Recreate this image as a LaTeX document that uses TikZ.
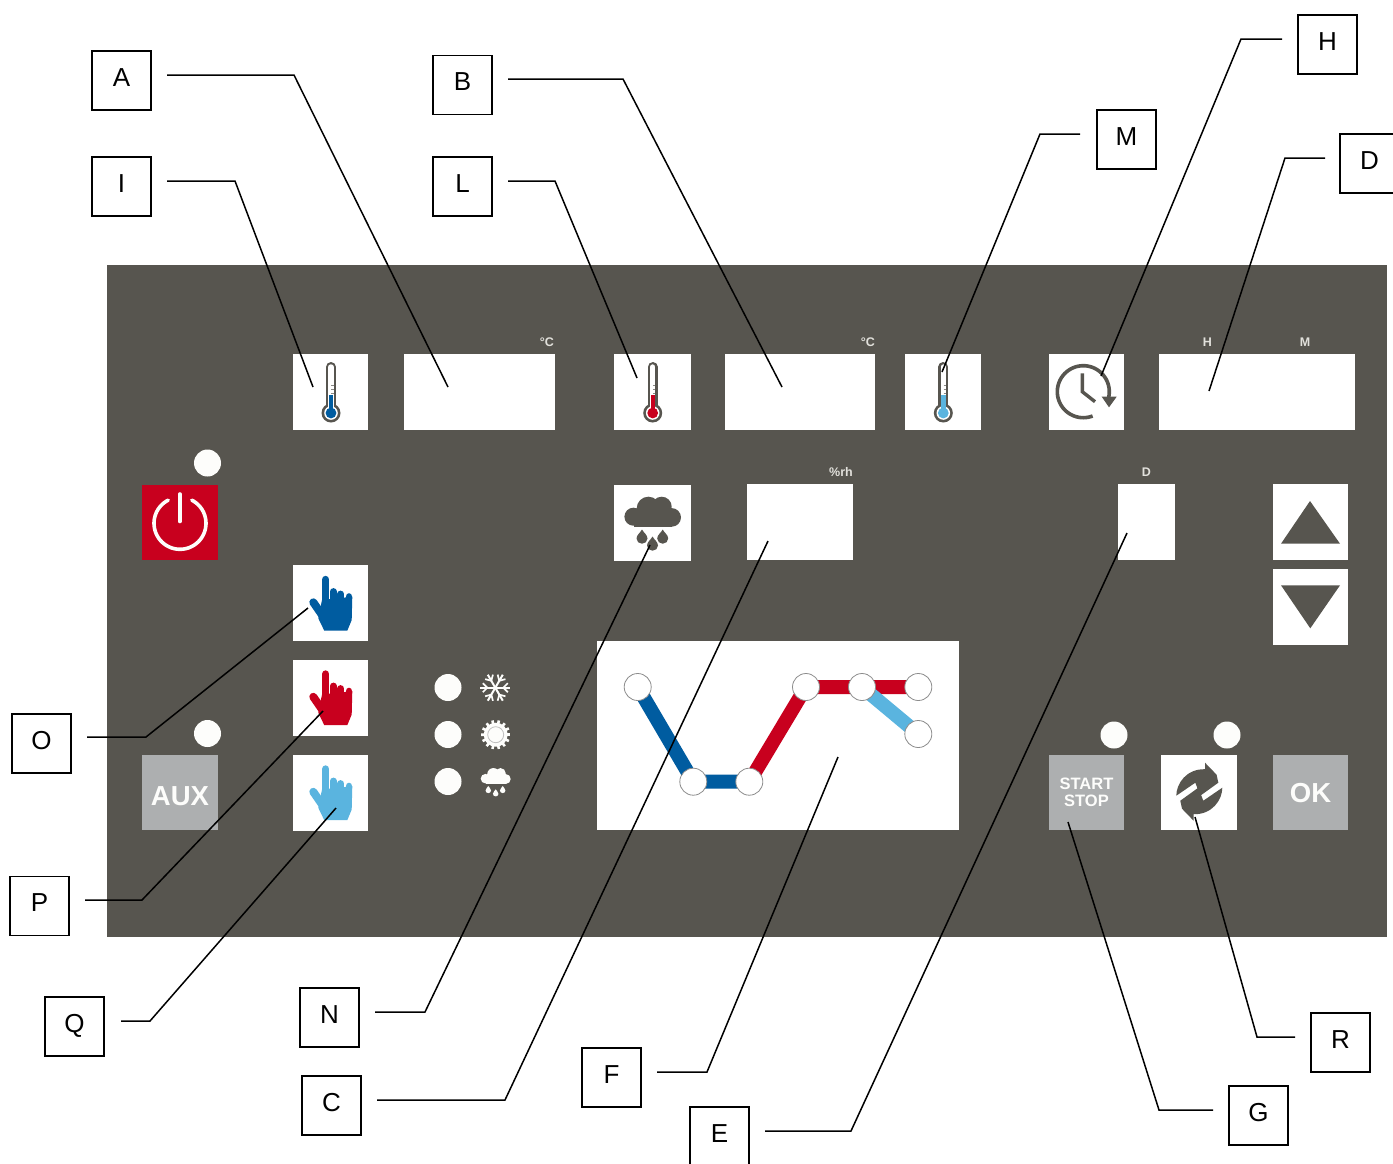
\documentclass[tikz,border=0pt]{standalone}
\usepackage{fontspec}
\setmainfont{Liberation Sans}
\definecolor{panelc}{HTML}{57554F}
\definecolor{offw}{HTML}{FFFFFF}
\definecolor{ledw}{HTML}{FDFDFB}
\definecolor{redc}{HTML}{C8001E}
\definecolor{bluec}{HTML}{005CA0}
\definecolor{cyanc}{HTML}{5AB4DF}
\definecolor{greyb}{HTML}{ADAFB0}
\definecolor{smalltxt}{HTML}{E2E1DC}
\tikzset{
  lbl/.style={draw=black,line width=1.5pt,fill=white,minimum width=59pt,minimum height=59pt,inner sep=0pt,
    text height=19pt,text depth=8pt,font=\fontsize{26}{26}\selectfont},
  leader/.style={draw=black,line width=1.5pt,line join=miter},
  wbox/.style={fill=offw,inner sep=0pt,minimum height=76pt},
  gbox/.style={fill=greyb,inner sep=0pt,minimum width=76pt,minimum height=75pt},
  gtext/.style={text=ledw,inner sep=0pt,align=center,font=\fontsize{27.5}{27.5}\selectfont\bfseries},
  led/.style={circle,fill=ledw,inner sep=0pt,minimum size=27pt},
  small/.style={text=smalltxt,inner sep=0pt,font=\fontsize{12.5}{12.5}\selectfont\bfseries},
  knot/.style={circle,draw=black!45,line width=.8pt,fill=white,inner sep=0pt,minimum size=27pt},
  seg/.style={line width=14pt},
  pics/thermometer/.style={code={
    \draw[panelc,line width=10pt,line cap=round] (0,-25) -- (0,15);
    \fill[panelc] (0,21) circle[radius=9.5];
    \draw[white,line width=5.4pt,line cap=round] (0,-25) -- (0,15);
    \fill[white] (0,21) circle[radius=6.8];
    \fill[#1] (0,21) circle[radius=5.4];
    \draw[#1,line width=4.4pt] (0,3) -- (0,18);
    \foreach \k in {-7,-3,1}{\draw[panelc!70,line width=.8pt] (0.2,\k) -- (2.7,\k);}
  }},
  pics/hand/.style={code={
    \fill[#1] (-8.5,-3) -- (21.8,-6.3) -- (21.2,17) -- (16.8,27.7) -- (-6.2,27.7) -- (-12.2,15.3) -- cycle;
    \draw[#1,line width=8pt,line cap=round] (-17.2,-0.7) -- (-3.8,18.7);
    \draw[#1,line width=7.4pt,line cap=round] (-4.8,-23.5) -- (-4.8,3);
    \draw[#1,line width=6.8pt,line cap=round] (2.8,-11.5) -- (2.8,3);
    \draw[#1,line width=6.8pt,line cap=round] (10.2,-9) -- (10.2,3);
    \draw[#1,line width=6.6pt,line cap=round] (18.5,-6.5) -- (18.5,3);
  }},
  pics/cloudy/.style={code={
    \fill[#1] (-19.3,5) circle[radius=9] (-4.3,-3.3) circle[radius=11.7] (9,-5) circle[radius=10] (19,5.7) circle[radius=9.3];
    \fill[#1] (-19,2) rectangle (19,15);
  }},
  pics/droplet/.style={code={
    \fill[#1] (0,-8) .. controls (1.5,-5) and (5.5,-2.5) .. (5.5,1)
      .. controls (5.5,4) and (3,6.2) .. (0,6.2)
      .. controls (-3,6.2) and (-5.5,4) .. (-5.5,1)
      .. controls (-5.5,-2.5) and (-1.5,-5) .. (0,-8) -- cycle;
  }},
  pics/syncblade/.style={code={
    \fill[panelc] (-23,4) .. controls (-23,-8) and (-13,-23) .. (5.7,-22.5)
      -- (5.7,-29) -- (17.3,-17) -- (19,-9) -- (1,4) -- (-4,-9) -- cycle;
  }}
}
\begin{document}
\begin{tikzpicture}[x=1pt,y=-1pt]
\useasboundingbox (0,0) rectangle (1393,1163);
\clip (0,0) rectangle (1393,1163);
\fill[white] (0,0) rectangle (1393,1163);
\fill[panelc] (107,265) rectangle (1387,937);

% top row
\node[wbox,minimum width=75pt] (t1) at (330.5,392) {};
\pic at (331,392) {thermometer=bluec};
\node[wbox,minimum width=151pt] (d1) at (479.5,392) {};
\node[wbox,minimum width=77pt] (t2) at (652.5,392) {};
\pic at (652.7,392) {thermometer=redc};
\node[wbox,minimum width=150pt] (d2) at (800,392) {};
\node[wbox,minimum width=76pt] (t3) at (943,392) {};
\pic at (943.3,392) {thermometer=cyanc};
\node[wbox,minimum width=75pt] (clk) at (1086.5,392) {};
\draw[panelc,line width=3.6pt] plot[domain=69:372,samples=60] ({1083.3+26*cos(\x)},{391.7+26*sin(\x)});
\draw[panelc,line width=3.4pt] (1082.3,373.3) -- (1082.3,391.7) -- (1095,401.7);
\fill[panelc] (1101.7,396.7) -- (1116.7,396.7) -- (1109,407.3) -- cycle;
\node[wbox,minimum width=196pt] (d3) at (1257,392) {};
\node[small] (uC1) at (547,342) {°C};
\node[small] (uC2) at (868,342) {°C};
\node[small] (uH) at (1207.5,342) {H};
\node[small] (uM) at (1305,342) {M};

% second row
\node[led] (l0) at (207.5,463) {};
\node[fill=redc,inner sep=0pt,minimum width=76pt,minimum height=75pt] (pw) at (180,522.5) {};
\draw[ledw,line width=3.6pt,line cap=round] plot[domain=-63:243,samples=60] ({180+26*cos(\x)},{523.3+26*sin(\x)});
\draw[ledw,line width=3.6pt,line cap=round] (179.7,494) -- (179.7,521.5);
\node[wbox,minimum width=77pt] (hum) at (652.5,523) {};
\pic at (652.7,511.7) {cloudy=panelc};
\pic at (642,537.5) {droplet=panelc};
\pic at (652.5,544.5) {droplet=panelc};
\pic at (662.7,537.5) {droplet=panelc};
\node[wbox,minimum width=106pt] (d4) at (800,522) {};
\node[small] (uRh) at (841,472) {\%rh};
\node[small] (uD) at (1146.5,472) {D};
\node[wbox,minimum width=57pt] (d5) at (1146.5,522) {};
\node[wbox,minimum width=75pt] (up) at (1310.5,522) {};
\fill[panelc] (1310,501) -- (1340,543.7) -- (1281,543.7) -- cycle;
\node[wbox,minimum width=75pt] (down) at (1310.5,606.5) {};
\fill[panelc] (1281,585.3) -- (1340,585.3) -- (1310.3,628.3) -- cycle;

% hands
\node[wbox,minimum width=75pt] (h1) at (330.5,603) {};
\pic at (330.5,603) {hand=bluec};
\node[wbox,minimum width=75pt] (h2) at (330.5,697.5) {};
\pic at (330.5,697.5) {hand=redc};
\node[wbox,minimum width=75pt] (h3) at (330.5,792.5) {};
\pic at (330.5,792.5) {hand=cyanc};

\node[led] (l1) at (207.5,733.5) {};
\node[gbox] (aux) at (180,792.5) {};
\node[gtext] (auxt) at (180,796.5) {AUX};

% mode leds
\node[led] (m1) at (448,687.5) {};
\node[led] (m2) at (448,734.5) {};
\node[led] (m3) at (448,781.5) {};
\begin{scope}[shift={(495.3,687.7)}]
  \foreach \a in {0,60,120}{
    \begin{scope}[rotate=\a]
      \draw[ledw,line width=2pt] (-15,0) -- (15,0);
      \draw[ledw,line width=1.7pt] (12.5,-4.5) -- (8,0) -- (12.5,4.5) (-12.5,-4.5) -- (-8,0) -- (-12.5,4.5);
    \end{scope}
  }
\end{scope}
\begin{scope}[shift={(495.7,734.7)}]
  \fill[ledw] (0,0) circle[radius=12];
  \foreach \a in {0,25.7,...,340}{\draw[ledw,line width=2.6pt] (\a:10) -- (\a:14.6);}
  \draw[black!25,line width=.8pt] (0,0) circle[radius=8];
\end{scope}
\pic[scale=.53] at (495.7,776) {cloudy=ledw};
\pic[scale=.5] at (488.3,790) {droplet=ledw};
\pic[scale=.5] at (495.7,793.3) {droplet=ledw};
\pic[scale=.5] at (502.7,790) {droplet=ledw};

% graph
\node[fill=offw,inner sep=0pt,minimum width=362pt,minimum height=189pt] (gr) at (778,735.5) {};
\coordinate (c1) at (637.7,687);
\coordinate (c2) at (693.3,781.7);
\coordinate (c3) at (749.3,781.7);
\coordinate (c4) at (806,687);
\coordinate (c5) at (862,687);
\coordinate (c6) at (918.3,687);
\coordinate (c7) at (918.3,734);
\draw[bluec,seg] (c1) -- (c2) -- (c3);
\draw[redc,seg] (c3) -- (c4) -- (c5) -- (c6);
\draw[cyanc,seg] (c5) -- (c7);
\foreach \k in {1,...,7}{\node[knot] (k\k) at (c\k) {};}

% bottom right
\node[led] (l2) at (1114,735) {};
\node[led] (l3) at (1227,735) {};
\node[gbox,minimum width=75pt] (ss) at (1086.5,792.5) {};
\node[gtext,font=\fontsize{16.5}{17.5}\selectfont\bfseries] (sst) at (1086.5,792.5) {START\\STOP};
\node[wbox,minimum width=76pt,minimum height=75pt] (sy) at (1199,792.5) {};
\pic at (1199.3,791.7) {syncblade};
\pic[rotate=180] at (1199.3,791.7) {syncblade};
\node[gbox,minimum width=75pt] (ok) at (1310.5,792.5) {};
\node[gtext] (okt) at (1310.5,793) {OK};

% labels
\foreach \n/\x/\y in {A/121.5/80.5,B/462.5/85,I/121.5/186.5,L/462.5/186.5,M/1126.5/139.5,H/1327.5/44.5,D/1369.5/163.5,O/41.5/743.5,P/39.5/906,Q/74.5/1026.5,N/329.5/1017.5,C/331.5/1105.5,F/611.5/1077.5,E/719.5/1136.5,G/1258.5/1115.5,R/1340.5/1042.5}{
  \node[lbl] (\n) at (\x,\y) {\n};
}

% leaders
\foreach \n/\ax/\ay/\bx/\by/\cx/\cy in {
  A/167/75/294/75/448/387,
  I/167/181/235/181/313/387,
  B/508/79/623/79/782/387,
  L/508/181/555/181/637/378,
  M/1080/134/1040/134/942/372,
  H/1282/39/1241/39/1101/376,
  D/1325/158/1285/158/1209/391,
  O/87/737/146/737/308/608,
  P/85/900/142/900/323/711,
  Q/121/1021/150/1021/336/808,
  N/375/1012/425/1012/650/545,
  C/377/1100/505/1100/768/541,
  F/657/1072/707/1072/838/757,
  E/765/1131/851/1131/1127/533,
  G/1213/1110/1159/1110/1068/822,
  R/1295/1037/1257/1037/1195/817}{
  \coordinate (\n s) at (\ax,\ay);
  \coordinate (\n k) at (\bx,\by);
  \coordinate (\n t) at (\cx,\cy);
  \draw[leader] (\n s) -- (\n k) -- (\n t);
}
\end{tikzpicture}
\end{document}
